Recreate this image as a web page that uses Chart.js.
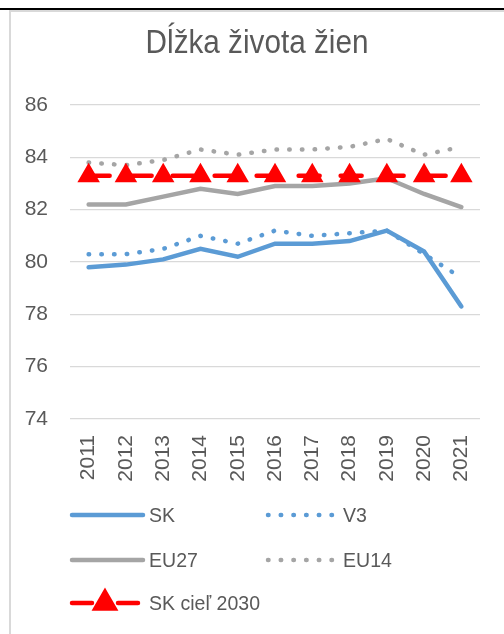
<!DOCTYPE html>
<html>
<head>
<meta charset="utf-8">
<script src="https://cdn.jsdelivr.net/npm/chart.js@4.4.0/dist/chart.umd.min.js"></script>
<style>
  html, body { margin: 0; padding: 0; background: #fff; width: 504px; height: 634px; overflow: hidden; }
  #caption { position: absolute; left: 20px; top: -18px; font: 22px/20px 'Liberation Sans', Arial, sans-serif; color: #222; white-space: nowrap; }
  #rule { position: absolute; left: 0; top: 8px; width: 504px; height: 2px; background: #000; }
  #frame { position: absolute; left: 9px; top: 10px; width: 600px; height: 700px; border: 2px solid #d9d9d9; box-sizing: border-box; }
  #wrap { position: absolute; left: 0; top: 0; width: 504px; height: 634px; }
</style>
</head>
<body>
<div id="caption">Graf 1 Dĺžka života žien</div>
<div id="rule"></div>
<div id="frame"></div>
<div id="wrap"><canvas id="lifeChart"></canvas></div>
<script>
const years = ['2011', '2012', '2013', '2014', '2015', '2016', '2017', '2018', '2019', '2020', '2021'];
const skValues = [79.8, 79.9, 80.1, 80.5, 80.2, 80.7, 80.7, 80.8, 81.2, 80.4, 78.3];
const v3Values = [80.3, 80.3, 80.5, 81.0, 80.7, 81.2, 81.0, 81.1, 81.2, 80.3, 79.4];
const eu27Values = [82.2, 82.2, 82.5, 82.8, 82.6, 82.9, 82.9, 83.0, 83.2, 82.6, 82.1];
const eu14Values = [83.8, 83.7, 83.9, 84.3, 84.1, 84.3, 84.3, 84.4, 84.7, 84.1, 84.4];
const targetValues = [83.3, 83.3, 83.3, 83.3, 83.3, 83.3, 83.3, 83.3, 83.3, 83.3, 83.3];
const yTicks = [74, 76, 78, 80, 82, 84, 86];
const chartTitle = 'Dĺžka života žien';

const FONT = "'Liberation Sans', Arial, sans-serif";
const TEXT = '#595959';
const BLUE = '#5b9bd5';
const GRAY = '#a5a5a5';
const RED = '#ff0000';

// legend slots: [x of sample start, sample width, y]
const legendSlots = [
  [72, 71, 515],
  [268, 66, 515],
  [72, 71, 560],
  [268, 66, 560],
  [72, 66, 603]
];

// narrow-looking title, centred on the chart frame like Excel does
const excelTitle = {
  id: 'excelTitle',
  afterDraw(chart) {
    const ctx = chart.ctx;
    ctx.save();
    ctx.translate(257, 53);
    ctx.scale(0.9, 1);
    ctx.fillStyle = TEXT;
    ctx.font = '33px ' + FONT;
    ctx.textAlign = 'center';
    ctx.textBaseline = 'alphabetic';
    ctx.fillText(chartTitle, 0, 0);
    ctx.restore();
  }
};

const excelLegend = {
  id: 'excelLegend',
  afterDraw(chart) {
    const ctx = chart.ctx;
    chart.data.datasets.forEach((ds, i) => {
      const [x, w, y] = legendSlots[i];
      ctx.save();
      ctx.strokeStyle = ds.borderColor;
      ctx.lineWidth = ds.borderWidth;
      ctx.lineCap = 'round';
      ctx.setLineDash(ds.legendDash || ds.borderDash || []);
      ctx.beginPath();
      ctx.moveTo(x, y);
      ctx.lineTo(x + w, y);
      ctx.stroke();
      ctx.setLineDash([]);
      if (ds.pointRadius > 0) {
        Chart.helpers.drawPoint(ctx, {
          pointStyle: ds.pointStyle,
          radius: ds.pointRadius,
          borderWidth: ds.pointBorderWidth,
          rotation: 0
        }, x + w / 2, y);
        ctx.fillStyle = ds.pointBackgroundColor;
        ctx.fill();
      }
      ctx.fillStyle = TEXT;
      ctx.font = '21px ' + FONT;
      ctx.textBaseline = 'middle';
      ctx.textAlign = 'left';
      ctx.translate(x + (i % 2 === 0 ? 77 : 75), y + 1);
      ctx.scale(0.93, 1);
      ctx.fillText(ds.label, 0, 0);
      ctx.restore();
    });
  }
};

new Chart(document.getElementById('lifeChart'), {
  type: 'line',
  data: {
    labels: years,
    datasets: [
      { label: 'SK', data: skValues, borderColor: BLUE, borderWidth: 4.5, pointRadius: 0, borderCapStyle: 'round', order: 2 },
      { label: 'V3', data: v3Values, borderColor: BLUE, borderWidth: 4.5, borderDash: [0.5, 12.2], borderCapStyle: 'round', pointRadius: 0, order: 3 },
      { label: 'EU27', data: eu27Values, borderColor: GRAY, borderWidth: 4.5, pointRadius: 0, borderCapStyle: 'round', order: 4 },
      { label: 'EU14', data: eu14Values, borderColor: GRAY, borderWidth: 4.5, borderDash: [0.5, 12.2], borderCapStyle: 'round', pointRadius: 0, order: 5 },
      { label: 'SK cieľ 2030', data: targetValues, borderColor: RED, borderWidth: 4.5, borderDash: [21, 21], legendDash: [20, 26], borderCapStyle: 'round',
        pointStyle: 'triangle', pointRadius: 11, pointBorderWidth: 2, pointBackgroundColor: RED, pointBorderColor: RED, order: 1 }
    ]
  },
  options: {
    responsive: true,
    maintainAspectRatio: false,
    animation: false,
    events: [],
    layout: { padding: { left: 11, right: 24, top: 105, bottom: 0 } },
    plugins: {
      legend: { display: false },
      tooltip: { enabled: false },
      title: { display: false }
    },
    scales: {
      x: {
        offset: true,
        grid: { display: false, drawTicks: false },
        border: { display: false },
        ticks: { color: TEXT, font: { family: FONT, size: 21 }, minRotation: 90, maxRotation: 90, padding: 16, autoSkip: false },
        afterFit(scale) { scale.height = 215; }
      },
      y: {
        min: 74,
        max: 86,
        afterBuildTicks(scale) { scale.ticks = yTicks.map(v => ({ value: v })); },
        grid: { color: '#d9d9d9', lineWidth: 1.3, drawTicks: false },
        border: { display: false },
        ticks: { color: TEXT, font: { family: FONT, size: 21 }, padding: 22 },
        afterFit(scale) { scale.width = 59; }
      }
    }
  },
  plugins: [excelTitle, excelLegend]
});
</script>
</body>
</html>
